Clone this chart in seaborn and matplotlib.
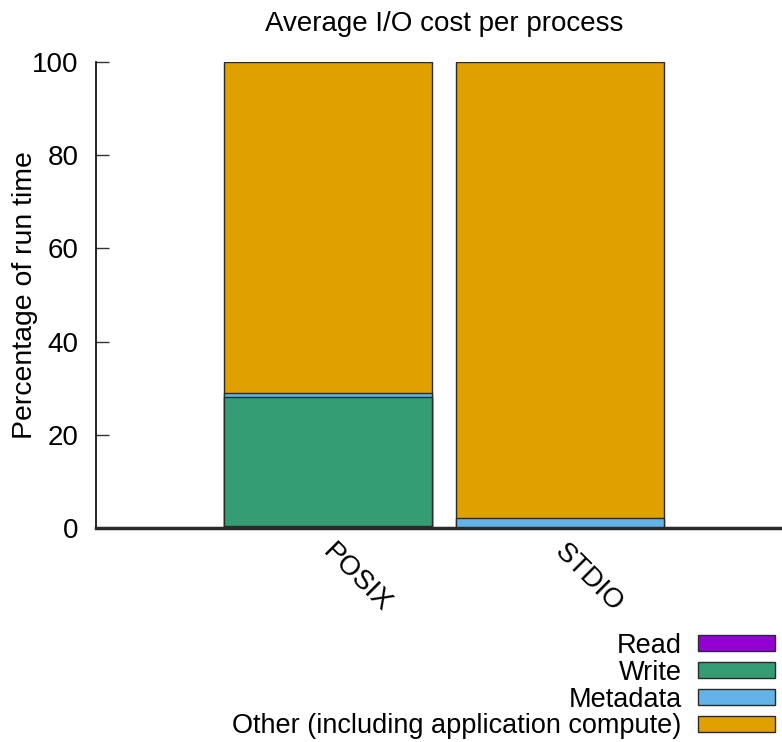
import matplotlib
matplotlib.use('Agg')
import matplotlib.pyplot as plt
import matplotlib.transforms as mtransforms
import numpy as np
import pandas as pd
import seaborn as sns

# data (percent of run time)
modules = ['POSIX', 'STDIO']
read = [0.4, 0.0]
write = [27.8, 0.0]
metadata = [0.7, 2.1]
other = [71.1, 97.9]

labels = ['Read', 'Write', 'Metadata', 'Other (including application compute)']
colors = ['#9400D3', '#349D74', '#63B3E8', '#E0A000']

sns.set_theme(style='white')
plt.rcParams['font.family'] = ['Liberation Sans', 'DejaVu Sans']
plt.rcParams.update({'text.color': 'black', 'axes.labelcolor': 'black',
                     'xtick.color': 'black', 'ytick.color': 'black'})

df = pd.DataFrame({'module': modules, 'Read': read, 'Write': write,
                   'Metadata': metadata, 'Other': other})
# cumulative tops, drawn from the highest layer down
cum = df[['Read', 'Write', 'Metadata', 'Other']].cumsum(axis=1)

fig = plt.figure(figsize=(7.82, 7.42), dpi=100)
# axis runs a little past the right edge of the figure, like the original
ax = fig.add_axes([96 / 782, 214 / 742, 696 / 782, 466 / 742])

for col, lab, c in reversed(list(zip(cum.columns, labels, colors))):
    sns.barplot(x=df['module'], y=cum[col], color=c, width=0.9, ax=ax,
                edgecolor='#2a2a2a', linewidth=1.0, saturation=1, label=lab)

ax.set_xlim(-1, 2)
ax.set_ylim(0, 100)
ax.set_yticks([0, 20, 40, 60, 80, 100])
ax.tick_params(axis='y', direction='in', length=9, width=1, labelsize=20, pad=12.5,
               left=True, color='#333333')
ax.tick_params(axis='x', length=0, labelsize=20, pad=8)
shift = mtransforms.ScaledTranslation(8 / 100, 0, fig.dpi_scale_trans)
for t in ax.get_xticklabels():
    t.set_rotation(-45)
    t.set_ha('left')
    t.set_va('top')
    t.set_rotation_mode('anchor')
    t.set_transform(t.get_transform() + shift)

for s in ['top', 'right']:
    ax.spines[s].set_visible(False)
ax.spines['left'].set_linewidth(1.2)
ax.spines['left'].set_color('black')
ax.spines['bottom'].set_linewidth(2.5)
ax.spines['bottom'].set_color('#2a2a2a')

ax.set_xlabel('')
ax.set_ylabel('Percentage of run time', fontsize=20.4, labelpad=-4)
ax.set_title('Average I/O cost per process', fontsize=20, pad=22)

handles, labs = ax.get_legend_handles_labels()
order = [labs.index(l) for l in labels]
ax.legend([handles[i] for i in order], [labs[i] for i in order],
          loc='upper right', bbox_to_anchor=(775 / 782, 0.147),
          bbox_transform=fig.transFigure, frameon=False,
          markerfirst=False, fontsize=19.5, handlelength=2.85, handleheight=0.52,
          labelspacing=0.03, handletextpad=0.6, borderaxespad=0, borderpad=0)

fig.savefig('out.png', dpi=100)
